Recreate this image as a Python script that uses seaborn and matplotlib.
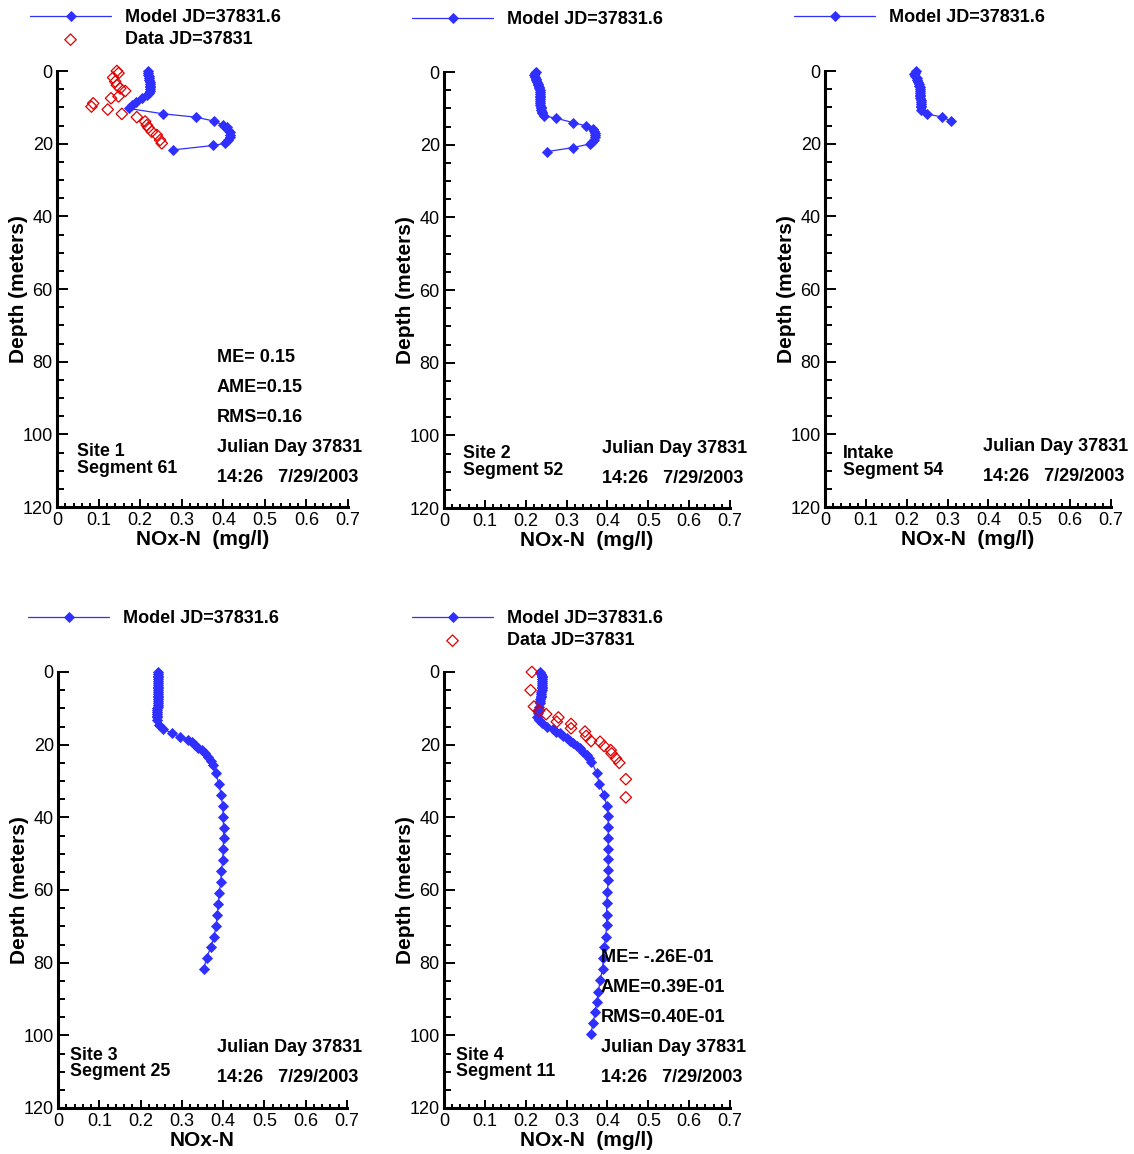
import numpy as np
import pandas as pd
import matplotlib
matplotlib.use("Agg")
import matplotlib.pyplot as plt
from matplotlib.ticker import MultipleLocator, FixedLocator
import seaborn as sns

# ---------------- data ----------------
# Site 1 / Segment 61
s1_model_depth = [0, 0.5, 1, 1.5, 2, 2.5, 3, 3.5, 4, 4.5, 5, 5.5, 6, 6.6, 7.5, 8.4, 9.4, 10.3,
                  11.8, 12.7, 13.8, 14.9, 15.5, 16.2, 16.9, 17.6, 18.3, 19.0, 19.9, 20.5, 21.7]
s1_model_val = [0.218, 0.219, 0.220, 0.221, 0.222, 0.222, 0.223, 0.223, 0.224, 0.224, 0.224, 0.224,
                0.222, 0.216, 0.204, 0.190, 0.180, 0.172,
                0.256, 0.334, 0.378, 0.400, 0.408, 0.412, 0.415, 0.416, 0.415, 0.412, 0.404, 0.376, 0.280]
s1_data_depth = [0, 0.6, 1.8, 2.9, 3.9, 4.8, 5.5, 7.0, 7.5, 8.9, 9.8, 10.6, 11.8, 12.7, 13.9, 14.9,
                 15.6, 16.7, 17.6, 19.0, 19.9]
s1_data_val = [0.144, 0.148, 0.135, 0.140, 0.144, 0.152, 0.164, 0.148, 0.130, 0.087, 0.083, 0.122,
               0.156, 0.192, 0.212, 0.216, 0.220, 0.228, 0.240, 0.248, 0.252]

# Site 2 / Segment 52
s2_model_depth = [0, 0.4, 0.8, 1.3, 1.8, 2.3, 2.7, 3.2, 3.6, 4.1, 4.5, 5, 5.5, 6, 6.5, 7, 7.5, 8,
                  8.5, 9, 9.5, 10, 10.5, 10.9, 11.4, 12.1, 12.7, 13.9, 14.8, 15.6, 16.2, 16.8, 17.3,
                  17.9, 18.7, 19.3, 19.8, 20.8, 21.9]
s2_model_val = [0.225, 0.222, 0.220, 0.222, 0.224, 0.226, 0.227, 0.229, 0.231, 0.232, 0.233, 0.234,
                0.234, 0.234, 0.235, 0.235, 0.235, 0.235, 0.236, 0.236, 0.237, 0.237, 0.238, 0.239,
                0.241, 0.245, 0.274, 0.315, 0.347, 0.365, 0.368, 0.370, 0.370, 0.369, 0.367, 0.362,
                0.357, 0.316, 0.253]

# Intake / Segment 54
s3_model_depth = [0, 0.5, 0.9, 1.4, 2, 2.5, 3, 3.5, 4, 4.5, 5, 5.5, 6, 6.5, 7, 7.5, 8, 8.5, 9,
                  9.5, 10, 10.7, 11.8, 12.7, 13.8]
s3_model_val = [0.223, 0.220, 0.218, 0.221, 0.224, 0.226, 0.228, 0.230, 0.231, 0.232, 0.232, 0.233,
                0.233, 0.233, 0.233, 0.233, 0.234, 0.234, 0.235, 0.235, 0.235, 0.236, 0.250, 0.287,
                0.309]

# Site 3 / Segment 25
s4_model_depth = [0, 0.5, 1, 1.5, 2, 2.5, 3, 3.5, 4, 4.5, 5, 5.5, 6, 6.5, 7, 7.5, 8, 8.5, 9, 9.5,
                  10, 10.5, 11, 11.5, 12, 12.5, 13.2, 14.6, 15.8, 16.7, 17.8, 18.7, 19.4, 20.1,
                  20.8, 21.5, 22.4, 23.3, 24.4, 25.6, 27.9, 30.8, 33.8, 36.8, 39.8, 42.8, 45.8,
                  48.8, 51.8, 54.8, 57.8, 60.8, 63.8, 66.9, 69.8, 72.9, 75.8, 78.6, 81.8]
s4_model_val = [0.243, 0.243, 0.243, 0.243, 0.243, 0.243, 0.243, 0.243, 0.243, 0.243, 0.243, 0.243,
                0.243, 0.242, 0.242, 0.242, 0.242, 0.242, 0.242, 0.242, 0.241, 0.241, 0.240, 0.240,
                0.240, 0.239, 0.239, 0.245, 0.255, 0.275, 0.295, 0.316, 0.325, 0.332, 0.340, 0.348,
                0.356, 0.364, 0.370, 0.376, 0.382, 0.390, 0.395, 0.399, 0.400, 0.401, 0.401, 0.400,
                0.399, 0.396, 0.394, 0.391, 0.388, 0.386, 0.383, 0.378, 0.370, 0.360, 0.353]

# Site 4 / Segment 11
s5_model_depth = [0, 0.5, 1, 1.5, 2, 2.5, 3, 3.5, 4, 4.5, 5, 5.5, 6, 6.5, 7, 7.5, 8, 8.6, 9.5,
                  10.5, 11.4, 12.3, 13.2, 14.1, 15.0, 15.8, 16.4, 16.9, 17.6, 18.3, 19.0, 19.6,
                  20.3, 21.0, 21.9, 22.8, 23.7, 24.7, 27.9, 30.8, 33.8, 36.8, 39.6, 42.6, 45.6,
                  48.6, 51.6, 54.5, 57.3, 60.5, 63.7, 66.9, 69.6, 72.9, 75.6, 78.8, 81.8, 84.8,
                  88.0, 90.7, 93.5, 96.7, 99.6]
s5_model_val = [0.235, 0.237, 0.239, 0.239, 0.239, 0.239, 0.239, 0.239, 0.239, 0.239, 0.239, 0.238,
                0.238, 0.237, 0.237, 0.236, 0.236, 0.235, 0.233, 0.231, 0.229, 0.228, 0.232, 0.239,
                0.251, 0.266, 0.275, 0.284, 0.292, 0.300, 0.308, 0.316, 0.325, 0.333, 0.341, 0.349,
                0.355, 0.361, 0.374, 0.380, 0.392, 0.398, 0.402, 0.402, 0.402, 0.402, 0.402, 0.402,
                0.402, 0.400, 0.398, 0.398, 0.398, 0.396, 0.392, 0.390, 0.388, 0.382, 0.378, 0.374,
                0.370, 0.365, 0.359]
s5_data_depth = [0, 5.0, 9.5, 10.6, 11.6, 12.5, 13.7, 14.3, 15.5, 16.4, 17.6, 19.0, 19.2, 20.4,
                 21.5, 22.4, 23.8, 25.0, 29.5, 34.5]
s5_data_val = [0.215, 0.212, 0.220, 0.233, 0.250, 0.280, 0.276, 0.311, 0.311, 0.345, 0.348, 0.360,
               0.382, 0.392, 0.408, 0.410, 0.421, 0.429, 0.445, 0.445]

x_ticks = [0, 0.1, 0.2, 0.3, 0.4, 0.5, 0.6, 0.7]
x_tick_labels = ["0", "0.1", "0.2", "0.3", "0.4", "0.5", "0.6", "0.7"]
y_ticks = [0, 20, 40, 60, 80, 100, 120]
y_tick_labels = ["0", "20", "40", "60", "80", "100", "120"]

model_label = "Model JD=37831.6"
data_label = "Data JD=37831"
date_lines = ["Julian Day 37831", "14:26   7/29/2003"]

# ---------------- style ----------------
sns.set_theme(style="white")
plt.rcParams["font.family"] = ["Liberation Sans", "DejaVu Sans"]
plt.rcParams["axes.linewidth"] = 2.2
plt.rcParams["text.color"] = "black"
plt.rcParams["axes.labelcolor"] = "black"
plt.rcParams["xtick.color"] = "black"
plt.rcParams["ytick.color"] = "black"

BLUE = "#2f2fff"
RED = "#e00000"
W, H = 1134, 1154
fig = plt.figure(figsize=(W / 100, H / 100), dpi=100)
fig.patch.set_facecolor("white")


def px_axes(left, top, right, bottom):
    return fig.add_axes([left / W, 1 - bottom / H, (right - left) / W, (bottom - top) / H])


def panel(box, mdepth, mval, ddepth, dval, leg_xy, site_lines, site_xy, stat_lines, stat_xy,
          xlabel):
    ax = px_axes(*box)
    mdf = pd.DataFrame({"depth": mdepth, "val": mval})
    sns.lineplot(data=mdf, x="val", y="depth", sort=False, estimator=None, ax=ax,
                 color=BLUE, linewidth=0.9, marker="D", markersize=5.2,
                 markeredgecolor=BLUE, markerfacecolor=BLUE, markeredgewidth=0.6,
                 label=model_label, clip_on=False, zorder=3)
    if ddepth is not None:
        ddf = pd.DataFrame({"depth": ddepth, "val": dval})
        sns.scatterplot(data=ddf, x="val", y="depth", ax=ax, marker="D", s=34,
                        facecolors="none", edgecolor=RED, linewidths=0.9,
                        label=data_label, clip_on=False, zorder=4)
    ax.set_xlim(0, 0.7)
    ax.set_ylim(120, 0)
    ax.xaxis.set_major_locator(FixedLocator(x_ticks))
    ax.set_xticklabels(x_tick_labels)
    ax.xaxis.set_minor_locator(MultipleLocator(0.02))
    ax.yaxis.set_major_locator(FixedLocator(y_ticks))
    ax.set_yticklabels(y_tick_labels)
    ax.yaxis.set_minor_locator(MultipleLocator(5))
    ax.tick_params(axis="both", which="both", direction="in", colors="black",
                   labelsize=13, width=1.4)
    ax.tick_params(axis="y", which="major", length=8, pad=3)
    ax.tick_params(axis="y", which="minor", length=5)
    ax.tick_params(axis="x", which="major", length=5.5, pad=3.5)
    ax.tick_params(axis="x", which="minor", length=3)
    ax.tick_params(axis="x", which="both", bottom=True)
    ax.tick_params(axis="y", which="both", left=True)
    for s in ("top", "right"):
        ax.spines[s].set_visible(False)
    for s in ("left", "bottom"):
        ax.spines[s].set_color("black")
        ax.spines[s].set_linewidth(2.2)
    ax.set_xlabel(xlabel, fontsize=15, fontweight="bold", labelpad=0.5, color="black")
    ax.set_ylabel("Depth (meters)", fontsize=15, fontweight="bold", labelpad=-4,
                  color="black")
    ax.grid(False)

    leg = ax.legend(loc="upper left", bbox_to_anchor=(leg_xy[0] / W, 1 - leg_xy[1] / H),
                    bbox_transform=fig.transFigure, frameon=False, borderpad=0,
                    borderaxespad=0, handlelength=4.49, handletextpad=0.78,
                    labelspacing=0.3, prop={"size": 13, "weight": "bold"})
    for t in leg.get_texts():
        t.set_color("black")
    # site label: two lines packed tightly, as one text block
    sx, sy = site_xy
    fig.text(sx / W, 1 - (sy + 7.5) / H, "\n".join(site_lines), fontsize=12.8,
             fontweight="bold", ha="left", va="center", color="black", linespacing=0.95)
    tx, ty = stat_xy
    for i, t in enumerate(stat_lines):
        fig.text(tx / W, 1 - (ty + 30 * i) / H, t, fontsize=13, fontweight="bold",
                 ha="left", va="center", color="black")
    return ax


panel((57, 71, 348, 507), s1_model_depth, s1_model_val, s1_data_depth, s1_data_val,
      (30, 9), ["Site 1", "Segment 61"], (77, 452.5),
      ["ME= 0.15", "AME=0.15", "RMS=0.16"] + date_lines, (217, 357.5), "NOx-N  (mg/l)")
panel((444, 72, 730, 508), s2_model_depth, s2_model_val, None, None,
      (412, 11), ["Site 2", "Segment 52"], (463, 454.5),
      date_lines, (602, 448), "NOx-N  (mg/l)")
panel((825, 71, 1111, 507), s3_model_depth, s3_model_val, None, None,
      (794, 9), ["Intake", "Segment 54"], (843, 454.5),
      date_lines, (983, 446.5), "NOx-N  (mg/l)")
panel((58, 672, 347, 1108), s4_model_depth, s4_model_val, None, None,
      (28, 610), ["Site 3", "Segment 25"], (70, 1056),
      date_lines, (217, 1047), "NOx-N")
panel((444, 672, 730, 1108), s5_model_depth, s5_model_val, s5_data_depth, s5_data_val,
      (412, 610), ["Site 4", "Segment 11"], (456, 1056),
      ["ME= -.26E-01", "AME=0.39E-01", "RMS=0.40E-01"] + date_lines, (601, 957),
      "NOx-N  (mg/l)")

fig.savefig("out.png", dpi=100, facecolor="white")
